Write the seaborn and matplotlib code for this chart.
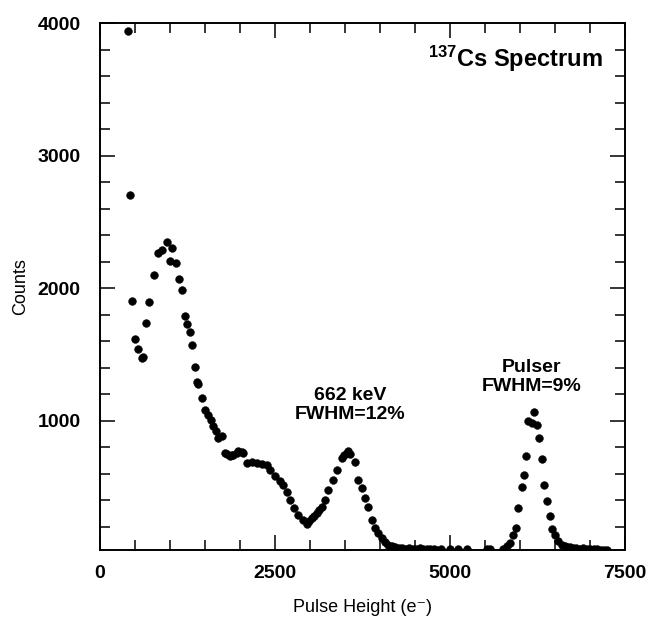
import numpy as np
import pandas as pd
import matplotlib
matplotlib.use("Agg")
import matplotlib.pyplot as plt
from matplotlib.ticker import MultipleLocator
import seaborn as sns

# spectrum points
pulse_height = [400, 430, 462, 500, 538, 595, 620, 653, 700, 776,
                833, 881, 952, 1000, 1024, 1086, 1129, 1171, 1210, 1248,
                1281, 1314, 1352, 1390, 1405, 1462, 1500, 1548, 1586, 1619,
                1652, 1690, 1738, 1786, 1810, 1857, 1881, 1905, 1952, 1976,
                2024, 2048, 2095, 2167, 2238, 2310, 2381, 2429, 2500, 2571,
                2619, 2667, 2714, 2771, 2833, 2905, 2952, 2990, 3024, 3060,
                3095, 3130, 3167, 3214, 3262, 3324, 3381, 3452, 3490, 3524,
                3548, 3571, 3643, 3690, 3738, 3786, 3833, 3881, 3929, 3976,
                4024, 4071, 4119, 4170, 4220, 4270, 4320, 4370, 4420, 4470,
                4520, 4570, 4620, 4670, 4720, 4770, 4820, 4870, 5000, 5119,
                5238, 5524, 5571, 5762, 5810, 5857,
                5905, 5938, 5976, 6024, 6057, 6086, 6119, 6167, 6200, 6238,
                6276, 6310, 6343, 6390, 6429, 6462, 6500, 6548, 6595, 6640,
                6667, 6710, 6760, 6800, 6850, 6900, 6950, 7000, 7050, 7100,
                7150, 7200, 7240]
counts = [3940, 2700, 1906, 1614, 1541, 1473, 1480, 1740, 1896, 2097,
          2265, 2290, 2346, 2208, 2303, 2190, 2071, 1983, 1792, 1730,
          1666, 1568, 1402, 1290, 1277, 1168, 1083, 1045, 1008, 957,
          919, 869, 882, 756, 751, 731, 743, 743, 756, 768,
          761, 756, 681, 688, 681, 675, 668, 630, 580, 542,
          517, 466, 404, 341, 291, 253, 223, 240, 266, 280,
          303, 330, 353, 404, 479, 555, 625, 718, 740, 756,
          768, 751, 685, 555, 492, 416, 353, 253, 190, 152,
          115, 89, 64, 55, 45, 40, 38, 35, 40, 35,
          33, 38, 35, 30, 33, 30, 28, 30, 30, 30,
          30, 30, 32, 35, 55, 80,
          140, 190, 341, 497, 592, 736, 995, 982, 1063, 970,
          869, 711, 512, 396, 283, 185, 140, 90, 65, 55,
          50, 45, 40, 40, 35, 38, 35, 32, 30, 30,
          28, 25, 25]

df = pd.DataFrame({"pulse": pulse_height, "counts": counts})

sns.set_style("ticks")
plt.rcParams['font.family'] = ['Liberation Sans', 'DejaVu Sans']
plt.rcParams['text.color'] = 'black'
plt.rcParams['axes.labelcolor'] = 'black'
plt.rcParams['xtick.color'] = 'black'
plt.rcParams['ytick.color'] = 'black'
plt.rcParams['mathtext.fontset'] = 'custom'
plt.rcParams['mathtext.rm'] = 'Liberation Sans:bold'
plt.rcParams['mathtext.it'] = 'Liberation Sans:bold'
plt.rcParams['mathtext.bf'] = 'Liberation Sans:bold'

fig = plt.figure(figsize=(6.48, 6.19), dpi=100)
ax = fig.add_axes([100/648, 1-550/619, 525/648, 527/619])

sns.scatterplot(data=df, x="pulse", y="counts", color="black", s=32,
                edgecolor="black", linewidth=0.3, ax=ax, legend=False)

ax.set_xlim(0, 7500)
ax.set_ylim(25, 4000)
ax.xaxis.set_major_locator(MultipleLocator(2500))
ax.xaxis.set_minor_locator(MultipleLocator(500))
ax.yaxis.set_major_locator(MultipleLocator(1000))
ax.yaxis.set_minor_locator(MultipleLocator(200))
ax.tick_params(which="both", direction="in", top=True, right=True,
               width=1.1, color="black", labelcolor="black")
ax.tick_params(which="major", length=11, labelsize=14)
ax.tick_params(axis="x", which="major", pad=11)
ax.tick_params(axis="y", which="major", pad=14)
ax.tick_params(which="minor", length=7)
for lab in ax.get_xticklabels() + ax.get_yticklabels():
    lab.set_fontweight("bold")
for sp in ax.spines.values():
    sp.set_linewidth(1.4)
    sp.set_color("black")

ax.set_xlabel("Pulse Height (e\u207b)", fontsize=13, labelpad=12)
ax.set_ylabel("Counts", fontsize=13, labelpad=6)

ax.text(7186, 3670, r"$^{137}$Cs Spectrum", ha="right", va="baseline",
        fontsize=17, fontweight="bold")
ax.text(3571, 1117, "662 keV\nFWHM=12%", ha="center", va="center",
        fontsize=14, fontweight="bold", linespacing=1.15)
ax.text(6171, 1332, "Pulser\nFWHM=9%", ha="center", va="center",
        fontsize=14, fontweight="bold", linespacing=1.15)

fig.savefig("out.png", dpi=100)
